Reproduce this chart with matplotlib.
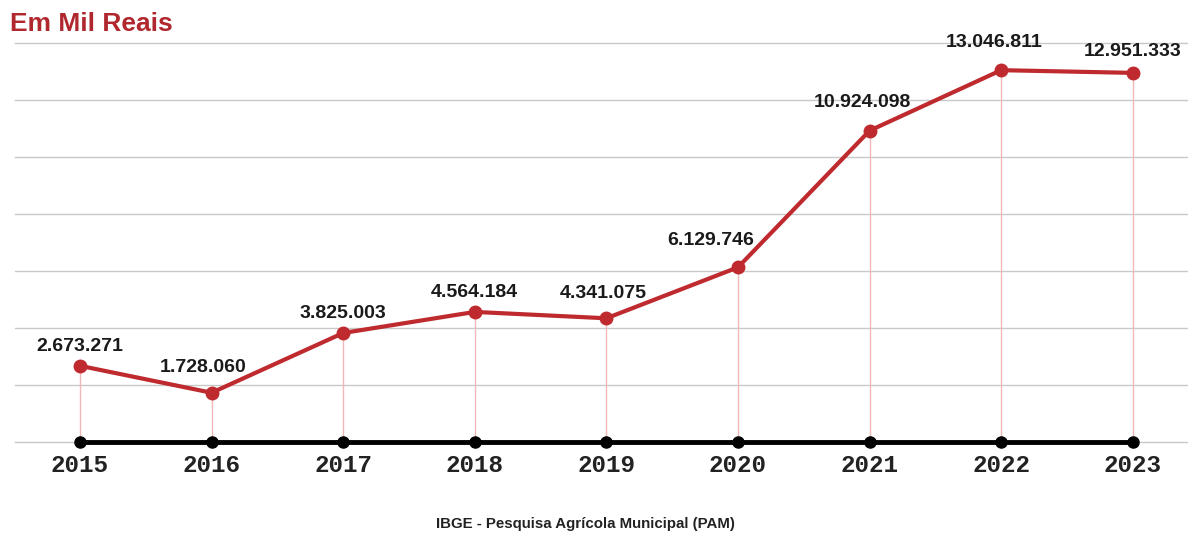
import numpy as np
import matplotlib.pyplot as plt

anos = [2015, 2016, 2017, 2018, 2019, 2020, 2021, 2022, 2023]
valores = np.array([2673271, 1728060, 3825003, 4564184, 4341075,
                    6129746, 10924098, 13046811, 12951333])  # mil reais
rotulos = ['2.673.271', '1.728.060', '3.825.003', '4.564.184', '4.341.075',
           '6.129.746', '10.924.098', '13.046.811', '12.951.333']

vermelho = '#bf2a2f'
# deslocamento horizontal dos rotulos (pontos)
desloc_x = [0, -6, 0, 0, -2, -20, -5, -5, 0]
desloc_y = [8, 12, 8, 8, 12, 13, 14, 14, 9]

fig = plt.figure(figsize=(11.88, 5.33), dpi=100)
ax = fig.add_axes([15 / 1188, 91 / 533, 1173 / 1188, 399 / 533])

x = np.arange(len(anos))

# linhas de grade horizontais
for yv in range(0, 14000001, 2000000):
    ax.axhline(yv, color='#c8c8c8', lw=1, zorder=0, clip_on=False)

# linhas verticais ligando pontos ao eixo
ax.vlines(x, 0, valores, color='#f0b8b8', lw=1, zorder=1)

# eixo preto com pontos
ax.plot([x[0], x[-1]], [0, 0], color='black', lw=3.5, zorder=3,
        solid_capstyle='butt', clip_on=False)
ax.plot(x, np.zeros(len(x)), 'o', color='black', ms=8, zorder=4, clip_on=False)

# serie principal
ax.plot(x, valores, color=vermelho, lw=3, zorder=5, marker='o', ms=9,
        clip_on=False)

for xi, v, r, dx, dy in zip(x, valores, rotulos, desloc_x, desloc_y):
    ax.annotate(r, (xi, v), xytext=(dx, dy), textcoords='offset points',
                ha='center', va='bottom', fontsize=14, fontweight='bold',
                family='Liberation Sans', color='#1a1a1a')

ax.set_xlim(-65 / 131.6, 1108 / 131.6)
ax.set_ylim(0, 14000000)
ax.set_xticks(x)
ax.set_xticklabels([str(a) for a in anos], fontsize=17.5, fontweight='bold',
                   family='Liberation Mono', color='#222222')
ax.tick_params(axis='x', length=0, pad=9)
ax.set_yticks([])
for s in ax.spines.values():
    s.set_visible(False)

fig.text(10 / 1188, 1 - 24 / 533, 'Em Mil Reais', fontsize=19,
         fontweight='bold', family='Liberation Sans', color='#b0282e',
         ha='left', va='center')
fig.text(585 / 1188, 1 - 524 / 533, 'IBGE - Pesquisa Agrícola Municipal (PAM)',
         fontsize=10.8, fontweight='bold', family='Liberation Sans',
         color='#222222', ha='center', va='center')

fig.savefig('out.png', dpi=100)
